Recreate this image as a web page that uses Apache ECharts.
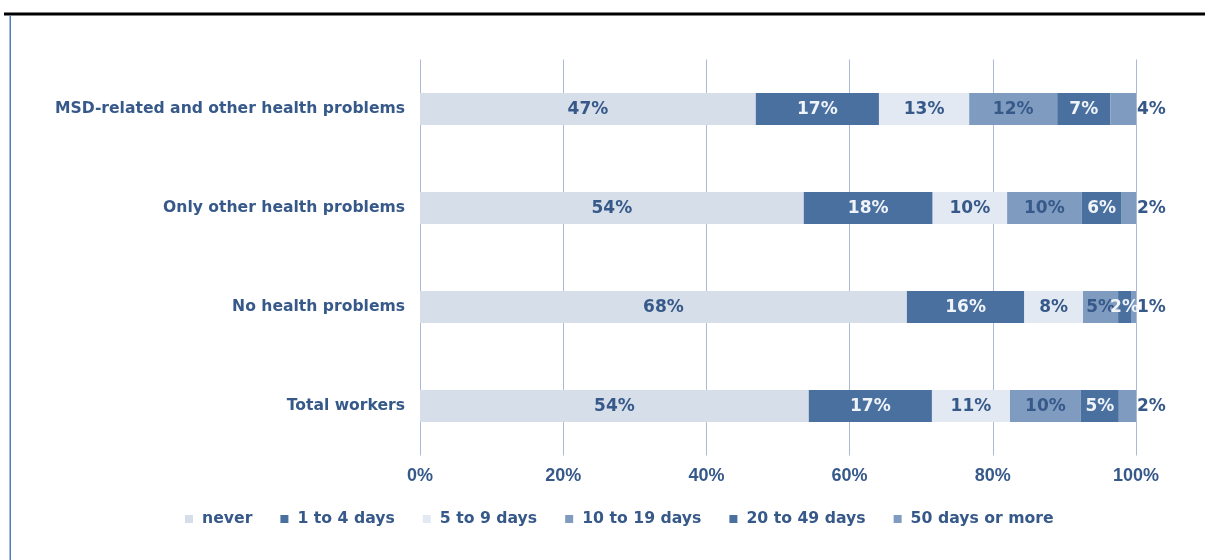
<!DOCTYPE html>
<html>
<head>
<meta charset="utf-8">
<script src="https://cdn.jsdelivr.net/npm/echarts@6/dist/echarts.min.js"></script>
<style>
  html, body { margin: 0; padding: 0; background: #ffffff; }
  #chart { width: 1205px; height: 560px; }
</style>
</head>
<body>
<div id="chart"></div>
<script>
// Sick-leave days by health status (share of workers, %)
const categories = [
  'MSD-related and other health problems',
  'Only other health problems',
  'No health problems',
  'Total workers'
];
const seriesNames = ['never', '1 to 4 days', '5 to 9 days', '10 to 19 days', '20 to 49 days', '50 days or more'];

const never      = [46.9, 53.6, 68.0, 54.3];
const days1to4   = [17.2, 18.0, 16.4, 17.2];
const days5to9   = [12.6, 10.4,  8.2, 10.9];
const days10to19 = [12.3, 10.4,  4.9,  9.9];
const days20to49 = [ 7.4,  5.6,  1.8,  5.3];
const days50plus = [ 3.6,  2.0,  0.7,  2.4];

const axisTicks = [0, 20, 40, 60, 80, 100];

const dark = '#36598a';
const fills = ['#d6dee9', '#4a70a0', '#e3e9f2', '#7f9cc0', '#4a70a0', '#7f9cc0'];
const labelColors = [dark, '#f0f4f9', dark, dark, '#f0f4f9', dark];
const values = [never, days1to4, days5to9, days10to19, days20to49, days50plus];

const fontMain = "Verdana, 'DejaVu Sans', sans-serif";

const series = seriesNames.map((name, i) => ({
  name: name,
  type: 'bar',
  stack: 'total',
  barWidth: 32,
  data: values[i],
  itemStyle: { color: fills[i] },
  label: {
    show: true,
    position: i === 5 ? 'right' : 'inside',
    distance: 1,
    offset: [0, 1],
    formatter: p => Math.round(p.value) + '%',
    color: labelColors[i],
    fontFamily: fontMain,
    fontWeight: 'bold',
    fontSize: 17
  }
}));

const chart = echarts.init(document.getElementById('chart'), null, { renderer: 'canvas' });
chart.setOption({
  animation: false,
  backgroundColor: '#ffffff',
  grid: { left: 420, right: 69, top: 59.5, bottom: 104.5, containLabel: false },
  xAxis: {
    type: 'value',
    min: axisTicks[0],
    max: axisTicks[axisTicks.length - 1],
    interval: axisTicks[1] - axisTicks[0],
    axisLine: { show: false },
    axisTick: { show: false },
    splitLine: { show: true, lineStyle: { color: '#a9bad2', width: 1 } },
    axisLabel: {
      formatter: v => v + '%',
      margin: 12,
      color: dark,
      fontFamily: "'Liberation Sans Narrow', 'Liberation Sans', sans-serif",
      fontWeight: 'bold',
      fontSize: 18
    }
  },
  yAxis: {
    type: 'category',
    inverse: true,
    data: categories,
    axisLine: { show: false },
    axisTick: { show: false },
    axisLabel: {
      margin: 15,
      color: dark,
      fontFamily: fontMain,
      fontWeight: 'bold',
      fontSize: 15.6
    }
  },
  legend: {
    left: 180,
    top: 506,
    itemWidth: 8,
    itemHeight: 8,
    itemGap: 28,
    icon: 'rect',
    data: seriesNames,
    textStyle: {
      color: dark,
      fontFamily: fontMain,
      fontWeight: 'bold',
      fontSize: 15.7,
      padding: [0, 0, 0, 4]
    }
  },
  graphic: [
    { type: 'rect', shape: { x: 4, y: 12.5, width: 1201, height: 3 }, style: { fill: '#000000' }, silent: true },
    { type: 'rect', shape: { x: 9.5, y: 15, width: 1.5, height: 545 }, style: { fill: '#4a7cc0' }, silent: true }
  ],
  series: series
});
</script>
</body>
</html>
